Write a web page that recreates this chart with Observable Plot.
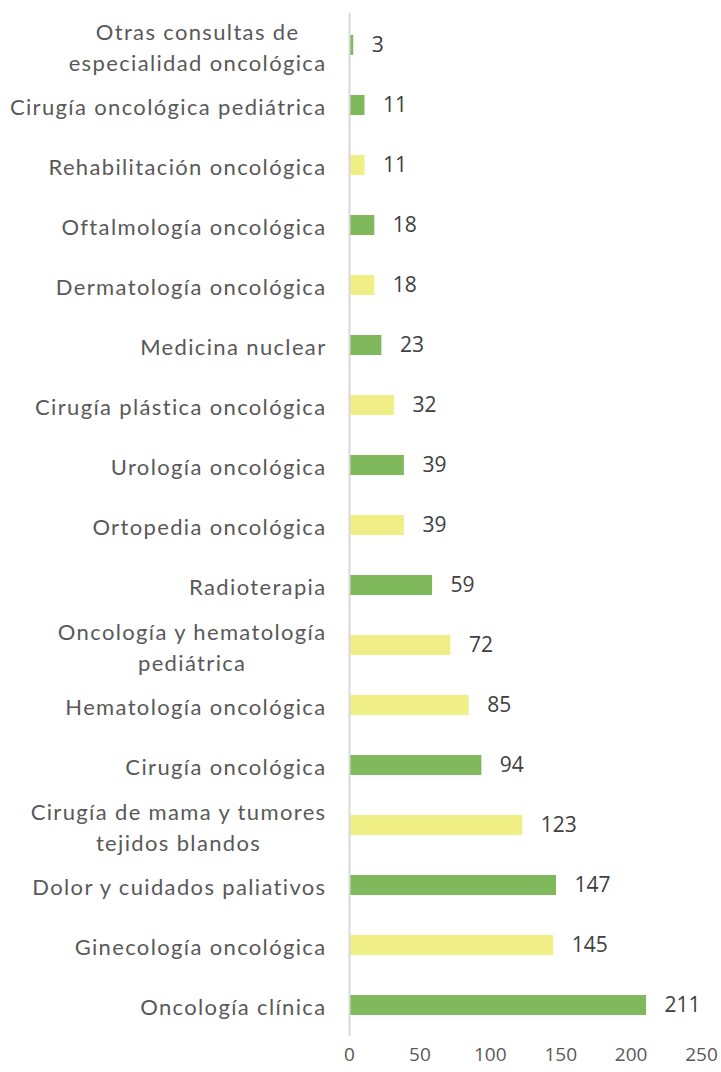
<!DOCTYPE html>
<html><head><meta charset="utf-8">
<script src="https://cdn.jsdelivr.net/npm/d3@7"></script>
<script src="https://cdn.jsdelivr.net/npm/@observablehq/plot@0.6"></script>
<style>body{margin:0;background:#fff;} #chart{width:721px;height:1072px;overflow:hidden;}</style>
</head><body><div id="chart"></div>
<script>
const categories = [
  "Otras consultas de\nespecialidad oncológica",
  "Cirugía oncológica pediátrica",
  "Rehabilitación oncológica",
  "Oftalmología oncológica",
  "Dermatología oncológica",
  "Medicina nuclear",
  "Cirugía plástica oncológica",
  "Urología oncológica",
  "Ortopedia oncológica",
  "Radioterapia",
  "Oncología y hematología\npediátrica",
  "Hematología oncológica",
  "Cirugía oncológica",
  "Cirugía de mama y tumores\ntejidos blandos",
  "Dolor y cuidados paliativos",
  "Ginecología oncológica",
  "Oncología clínica"
];
const values = [3, 11, 11, 18, 18, 23, 32, 39, 39, 59, 72, 85, 94, 123, 147, 145, 211];
const colorGroups = ["g","g","y","g","y","g","y","g","y","g","y","y","g","y","g","y","g"];
const xTicks = [0, 50, 100, 150, 200, 250];

const data = categories.map((c, i) => ({category: c, value: values[i], group: colorGroups[i]}));

const labelFont = "Lato, 'Open Sans', sans-serif";
const chart = Plot.plot({
  width: 721,
  height: 1072,
  marginLeft: 349,
  marginRight: 20,
  marginTop: 13,
  marginBottom: 36,
  style: {background: "#ffffff", overflow: "visible"},
  x: {domain: [0, 250], ticks: xTicks},
  y: {domain: categories, paddingInner: 0.667, paddingOuter: 0.333},
  color: {domain: ["g", "y"], range: ["#80b95b", "#f0ef86"]},
  marks: [
    Plot.barX(data, {y: "category", x: "value", fill: "group"}),
    Plot.ruleX([0], {stroke: "#d9d9d9", strokeWidth: 2}),
    Plot.text(data, {y: "category", x: "value", text: d => String(d.value), textAnchor: "start", dx: 18, fill: "#404040", fontSize: 21, fontFamily: "'Open Sans', sans-serif"}),
    Plot.axisY({tickSize: 0, tickPadding: 23, fontSize: 22, fill: "#595959", fontFamily: labelFont, lineHeight: 1.4, label: null}),
    Plot.axisX({ticks: xTicks, tickSize: 0, tickPadding: 11, fontSize: 19, fill: "#595959", fontFamily: "'Open Sans', sans-serif", label: null})
  ]
});
document.getElementById("chart").appendChild(chart);

// widen the category labels (original uses a wide geometric face)
const yLabels = chart.querySelector('g[aria-label="y-axis tick label"]');
if (yLabels) yLabels.style.letterSpacing = "1.35px";

// centre multi-line category labels like the original
chart.querySelectorAll("text").forEach(t => {
  const spans = t.querySelectorAll("tspan");
  if (spans.length > 1) {
    let maxW = 0;
    spans.forEach(s => { maxW = Math.max(maxW, s.getComputedTextLength()); });
    t.setAttribute("text-anchor", "middle");
    spans.forEach(s => s.setAttribute("x", -maxW / 2));
  }
});
</script></body></html>
